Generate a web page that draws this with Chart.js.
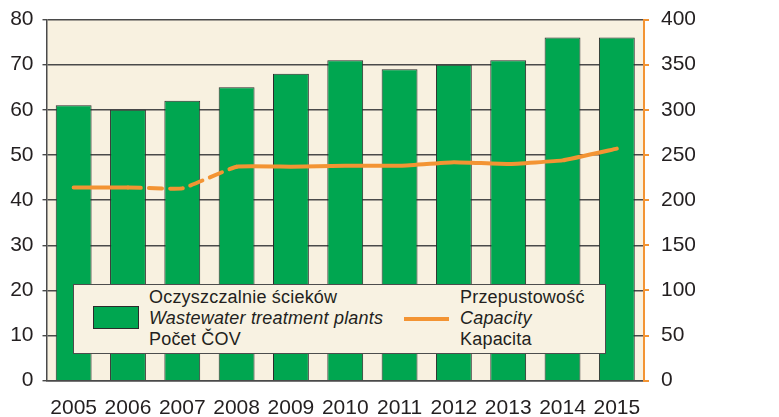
<!DOCTYPE html>
<html>
<head>
<meta charset="utf-8">
<script src="https://cdn.jsdelivr.net/npm/chart.js@4.4.1/dist/chart.umd.min.js"></script>
<style>
  html, body { margin: 0; padding: 0; background: #fff; }
  #wrap { position: relative; width: 779px; height: 417px; }
  #legend {
    position: absolute; left: 73px; top: 284px; width: 531px; height: 68px;
    border: 1.5px solid #4d4d4d; background: #f8f2e2;
    font-family: "Liberation Sans", Arial, sans-serif; font-size: 18px; line-height: 21px; color: #231f20;
    letter-spacing: 0.2px;
  }
  #legend .txt { position: absolute; top: 2px; white-space: nowrap; }
  #legend .txt i { font-style: italic; }
  #legend .swatch {
    position: absolute; left: 19px; top: 21px; width: 44px; height: 21px;
    background: #00a650; border: 1px solid #2b2b2b;
  }
  #legend .dash { position: absolute; left: 330px; top: 32px; width: 45px; height: 4px; background: #f39433; }
</style>
</head>
<body>
<div id="wrap">
  <canvas id="c" width="779" height="417"></canvas>
  <div id="legend">
    <div class="swatch"></div>
    <div class="txt" style="left:75px">Oczyszczalnie ścieków<br><i>Wastewater treatment plants</i><br>Počet ČOV</div>
    <div class="dash"></div>
    <div class="txt" style="left:386px">Przepustowość<br><i>Capacity</i><br>Kapacita</div>
  </div>
</div>
<script>
const years = ["2005", "2006", "2007", "2008", "2009", "2010", "2011", "2012", "2013", "2014", "2015"];
const plants = [61, 60, 62, 65, 68, 71, 69, 70, 71, 76, 76];
const capacity = [214, 214, 213, 237, 237, 238, 238, 242, 240, 244, 257];
const dashedFrom = [1, 2]; // segments 2006-2007 and 2007-2008 drawn dashed

const FONT = "'Liberation Sans', Arial, sans-serif";
const INK = "#231f20";
const GRID = "#4a4a4a";
const ORANGE = "#f39433";

const plotBg = {
  id: "plotBg",
  beforeDraw(chart) {
    const { ctx, chartArea: a } = chart;
    ctx.save();
    ctx.fillStyle = "#f8f1e0";
    ctx.fillRect(a.left, a.top, a.right - a.left, a.bottom - a.top);
    ctx.restore();
  },
};

// lineHeight kept small so the top label does not push the plot down
const tickFont = { family: FONT, size: 21, lineHeight: 0.7 };

new Chart(document.getElementById("c"), {
  type: "bar",
  data: {
    labels: years,
    datasets: [
      {
        type: "line",
        label: "Capacity",
        data: capacity,
        yAxisID: "y1",
        borderColor: ORANGE,
        borderWidth: 4,
        borderCapStyle: "round",
        pointRadius: 0,
        tension: 0.1,
        order: 0,
        segment: {
          borderDash: (ctx) => (dashedFrom.includes(ctx.p0DataIndex) ? [13, 8] : undefined),
        },
      },
      {
        label: "Wastewater treatment plants",
        data: plants,
        yAxisID: "y",
        backgroundColor: "#00a650",
        borderColor: "#2b2b2b",
        borderWidth: 1,
        barPercentage: 0.66,
        categoryPercentage: 1,
        order: 1,
      },
    ],
  },
  options: {
    responsive: false,
    animation: false,
    layout: { padding: { top: 19.5, right: 84, left: 0, bottom: 0 } },
    plugins: { legend: { display: false }, tooltip: { enabled: false } },
    scales: {
      x: {
        grid: { display: false },
        border: { color: GRID, width: 1.5 },
        ticks: { color: INK, font: { family: FONT, size: 21 }, padding: 7, maxRotation: 0, autoSkip: false },
        afterFit: (s) => { s.height = 36.3; },
      },
      y: {
        position: "left",
        min: 0,
        max: 80,
        ticks: { stepSize: 10, color: INK, font: tickFont, padding: 9 },
        grid: { color: GRID, lineWidth: 1.4, tickLength: 4 },
        border: { color: GRID, width: 1.5 },
        afterFit: (s) => { s.width = 46.5; },
      },
      y1: {
        position: "right",
        min: 0,
        max: 400,
        ticks: { stepSize: 50, color: INK, font: tickFont, padding: 12 },
        grid: { drawOnChartArea: false, color: ORANGE, lineWidth: 2, tickLength: 5 },
        border: { color: ORANGE, width: 2 },
        afterFit: (s) => { s.width = 51; },
      },
    },
  },
  plugins: [plotBg],
});
</script>
</body>
</html>
